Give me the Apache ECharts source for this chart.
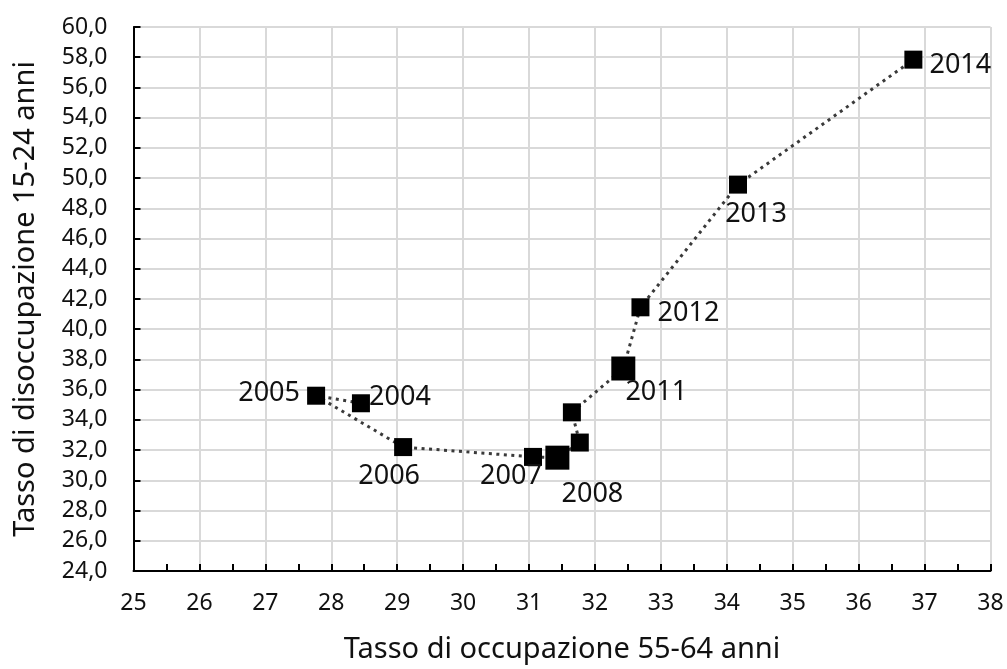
<!DOCTYPE html>
<html>
<head>
<meta charset="utf-8">
<title>Tasso di occupazione / disoccupazione</title>
<script src="https://cdn.jsdelivr.net/npm/echarts@6/dist/echarts.min.js"></script>
<style>
  html, body { margin: 0; padding: 0; background: #fff; }
  #chart { width: 1007px; height: 669px; }
</style>
</head>
<body>
<div id="chart"></div>
<script>
// anni e valori
const years = [2004, 2005, 2006, 2007, 2008, 2009, 2010, 2011, 2012, 2013, 2014]
const occupazione5564 = [28.45, 27.77, 29.09, 31.06, 31.43, 31.77, 31.65, 32.43, 32.69, 34.17, 36.83]
const disoccupazione1524 = [35.1, 35.6, 32.2, 31.55, 31.5, 32.5, 34.5, 37.4, 41.45, 49.57, 57.84]
const labelledYears = [2004, 2005, 2006, 2007, 2008, 2011, 2012, 2013, 2014]

// posizione delle etichette rispetto al marker (stile)
const labelOffset = {
  2004: [39, -6],
  2005: [-47, -2],
  2006: [-14, 29],
  2007: [-22, 19],
  2008: [35, 37],
  2011: [33, 24],
  2012: [48, 6],
  2013: [18, 30],
  2014: [47, 6]
}
const bigMarkers = [2008, 2011]

const font = '"Noto Sans", "Open Sans", sans-serif'
const chart = echarts.init(document.getElementById('chart'), null, { renderer: 'canvas' })

const seriesData = years.map((y, i) => {
  const item = {
    name: String(y),
    value: [occupazione5564[i], disoccupazione1524[i]],
    symbolSize: bigMarkers.includes(y) ? 24 : 18
  }
  if (labelledYears.includes(y)) {
    item.label = {
      show: true,
      position: 'inside',
      offset: labelOffset[y],
      formatter: String(y)
    }
  }
  return item
})

chart.setOption({
  animation: false,
  backgroundColor: '#fff',
  grid: {
    left: 133.5,
    right: 16.5,
    top: 27,
    bottom: 97
  },
  xAxis: {
    type: 'value',
    min: 25,
    max: 38,
    interval: 1,
    name: 'Tasso di occupazione 55-64 anni',
    nameLocation: 'middle',
    nameGap: 64,
    nameTextStyle: { fontFamily: font, fontSize: 29, color: '#111' },
    axisLine: { show: true, onZero: false, lineStyle: { color: '#000', width: 2 } },
    axisTick: { show: true, inside: true, length: 7, lineStyle: { color: '#000', width: 2 } },
    minorTick: { show: true, splitNumber: 2, length: 7, lineStyle: { color: '#000', width: 2 } },
    axisLabel: { fontFamily: font, fontSize: 23, color: '#111', margin: 21 },
    splitLine: { show: true, lineStyle: { color: '#d9d9d9', width: 2 } }
  },
  yAxis: {
    type: 'value',
    min: 24,
    max: 60,
    interval: 2,
    name: 'Tasso di disoccupazione 15-24 anni',
    nameLocation: 'middle',
    nameGap: 93,
    nameTextStyle: { fontFamily: font, fontSize: 29, color: '#111' },
    axisLine: { show: true, onZero: false, lineStyle: { color: '#000', width: 2 } },
    axisTick: { show: true, inside: true, length: 7, lineStyle: { color: '#000', width: 2 } },
    axisLabel: {
      fontFamily: font,
      fontSize: 23,
      color: '#111',
      margin: 26,
      formatter: v => v.toFixed(1).replace('.', ',')
    },
    splitLine: { show: true, lineStyle: { color: '#d9d9d9', width: 2 } }
  },
  series: [{
    type: 'line',
    data: seriesData,
    symbol: 'rect',
    itemStyle: { color: '#000' },
    lineStyle: { color: '#3a3a3a', width: 3, type: [3, 4.5] },
    label: {
      fontFamily: font,
      fontSize: 27,
      color: '#111',
      align: 'center',
      verticalAlign: 'middle'
    },
    emphasis: { disabled: true },
    z: 5
  }]
})
</script>
</body>
</html>
